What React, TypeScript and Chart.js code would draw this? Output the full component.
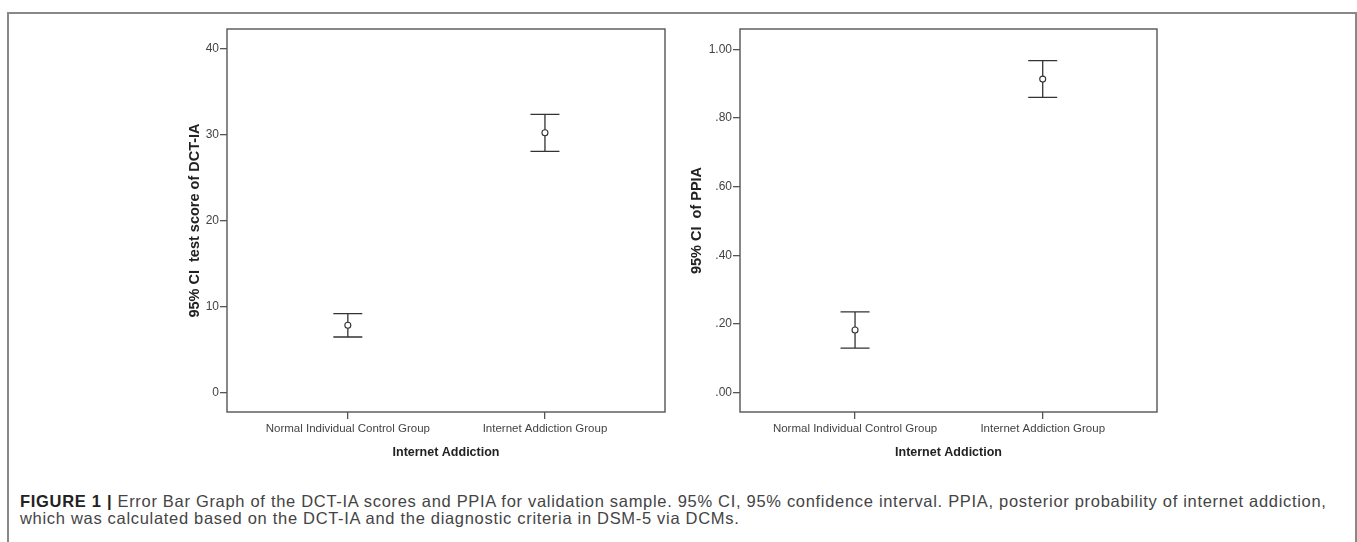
import React, { useEffect, useRef } from "react";
import { Chart, registerables } from "chart.js";
Chart.register(...registerables);

// ---- data ----
const categories = ["Normal Individual Control Group", "Internet Addiction Group"];
const dctMean = [7.87, 30.27];
const dctLower = [6.51, 28.1];
const dctUpper = [9.22, 32.4];
const dctTicks = [0, 10, 20, 30, 40];
const ppiaMean = [0.1825, 0.913];
const ppiaLower = [0.13, 0.86];
const ppiaUpper = [0.235, 0.967];
const ppiaTicks = [0, 0.2, 0.4, 0.6, 0.8, 1.0];
const xTitle = "Internet Addiction";
const dctTitle = "95% CI  test score of DCT-IA";
const ppiaTitle = "95% CI  of PPIA";

const LINE = "#333";
const AXIS = "#555";
const TICK_FONT = { family: "'Liberation Sans Narrow', 'Liberation Sans', Arial, sans-serif", size: 11.5 };
const TITLE_FONT = { family: "'Liberation Sans', Arial, sans-serif", size: 14.5, weight: "bold" as const };

const errorBarPlugin = {
  id: "errorBars",
  beforeDatasetsDraw(chart: any, _args: any, opts: any) {
    const { ctx } = chart;
    const x = chart.scales.x;
    const y = chart.scales.y;
    const lower: number[] = opts.lower;
    const upper: number[] = opts.upper;
    ctx.save();
    ctx.strokeStyle = LINE;
    ctx.lineWidth = 1.3;
    const half = 14.5;
    lower.forEach((lo, i) => {
      const px = x.getPixelForValue(i);
      const pLo = y.getPixelForValue(lo);
      const pHi = y.getPixelForValue(upper[i]);
      ctx.beginPath();
      ctx.moveTo(px, pLo);
      ctx.lineTo(px, pHi);
      ctx.moveTo(px - half, pLo);
      ctx.lineTo(px + half, pLo);
      ctx.moveTo(px - half, pHi);
      ctx.lineTo(px + half, pHi);
      ctx.stroke();
    });
    ctx.restore();
  },
};

const framePlugin = {
  id: "frameBox",
  afterDraw(chart: any) {
    const { ctx, chartArea: a } = chart;
    ctx.save();
    ctx.strokeStyle = AXIS;
    ctx.lineWidth = 1.4;
    ctx.strokeRect(a.left, a.top, a.right - a.left, a.bottom - a.top);
    ctx.restore();
  },
};

function makeConfig(
  means: number[],
  lower: number[],
  upper: number[],
  ticks: number[],
  fmt: (v: number) => string,
  yMin: number,
  yMax: number,
  yTitle: string,
  yAxisWidth: number,
  yTitlePad: number
): any {
  return {
    type: "scatter",
    data: {
      datasets: [
        {
          data: means.map((m, i) => ({ x: i, y: m })),
          pointRadius: 3,
          pointBorderWidth: 1.1,
          borderColor: LINE,
          backgroundColor: "#fff",
          pointBackgroundColor: "#fff",
          pointBorderColor: LINE,
        },
      ],
    },
    options: {
      animation: false,
      responsive: false,
      events: [],
      layout: { padding: { top: 29, right: 15, left: 0, bottom: 0 } },
      plugins: {
        legend: { display: false },
        tooltip: { enabled: false },
        errorBars: { lower, upper },
      },
      scales: {
        x: {
          type: "linear",
          min: -0.613,
          max: 1.609,
          afterBuildTicks: (s: any) => {
            s.ticks = categories.map((_, i) => ({ value: i }));
          },
          afterFit: (s: any) => {
            s.height = 58;
          },
          border: { display: false },
          grid: { drawOnChartArea: false, drawTicks: true, tickLength: 7, color: AXIS, lineWidth: 1.3 },
          ticks: {
            autoSkip: false,
            maxRotation: 0,
            padding: 3,
            color: "#444",
            font: TICK_FONT,
            callback: (v: any) => categories[Math.round(Number(v))] ?? "",
          },
          title: {
            display: true,
            text: xTitle,
            color: "#222",
            font: { ...TITLE_FONT, size: 12.5 },
            padding: { top: 4, bottom: 10 },
          },
        },
        y: {
          type: "linear",
          min: yMin,
          max: yMax,
          afterBuildTicks: (s: any) => {
            s.ticks = ticks.map((v) => ({ value: v }));
          },
          afterFit: (s: any) => {
            s.width = yAxisWidth;
          },
          border: { display: false },
          grid: { drawOnChartArea: false, drawTicks: true, tickLength: 7, color: AXIS, lineWidth: 1.3 },
          ticks: {
            padding: 1,
            color: "#444",
            font: { ...TICK_FONT, size: 12 },
            callback: (v: any) => fmt(Number(v)),
          },
          title: {
            display: true,
            text: yTitle,
            color: "#222",
            font: TITLE_FONT,
            padding: { top: yTitlePad, bottom: 0 },
          },
        },
      },
    },
    plugins: [errorBarPlugin, framePlugin],
  };
}

function ErrorChart(props: { cfg: () => any; left: number; width: number }) {
  const ref = useRef<HTMLCanvasElement>(null);
  useEffect(() => {
    if (!ref.current) return;
    const chart = new Chart(ref.current, props.cfg());
    return () => chart.destroy();
  }, []);
  return (
    <canvas
      ref={ref}
      width={props.width}
      height={470}
      style={{ position: "absolute", left: props.left, top: 0, width: props.width, height: 470 }}
    />
  );
}

export default function App() {
  return (
    <div style={{ position: "absolute", left: 0, top: 0, width: 1357, height: 542, background: "#fff", overflow: "hidden" }}>
      <div
        style={{
          position: "absolute",
          left: 7,
          top: 12,
          width: 1346,
          height: 540,
          borderTop: "2px solid #888",
          borderLeft: "2px solid #888",
          borderRight: "2px solid #888",
        }}
      />
      <ErrorChart
        left={140}
        width={540}
        cfg={() =>
          makeConfig(dctMean, dctLower, dctUpper, dctTicks, (v) => String(v), -2.21, 42.33, dctTitle, 87, 46.3)
        }
      />
      <ErrorChart
        left={680}
        width={492}
        cfg={() =>
          makeConfig(
            ppiaMean,
            ppiaLower,
            ppiaUpper,
            ppiaTicks,
            (v) => v.toFixed(2).replace(/^0/, ""),
            -0.0562,
            1.0588,
            ppiaTitle,
            60,
            8.3
          )
        }
      />
      <div
        style={{
          position: "absolute",
          left: 20,
          top: 493,
          fontFamily: "'Liberation Sans', Arial, sans-serif",
          fontSize: 16.5,
          letterSpacing: "0.69px",
          lineHeight: "17px",
          color: "#444",
          whiteSpace: "nowrap",
        }}
      >
        <span style={{ fontWeight: "bold", color: "#222" }}>FIGURE 1 |</span> Error Bar Graph of the DCT-IA scores and
        PPIA for validation sample. 95% CI, 95% confidence interval. PPIA, posterior probability of internet addiction,
        <br />
        which was calculated based on the DCT-IA and the diagnostic criteria in DSM-5 via DCMs.
      </div>
    </div>
  );
}
